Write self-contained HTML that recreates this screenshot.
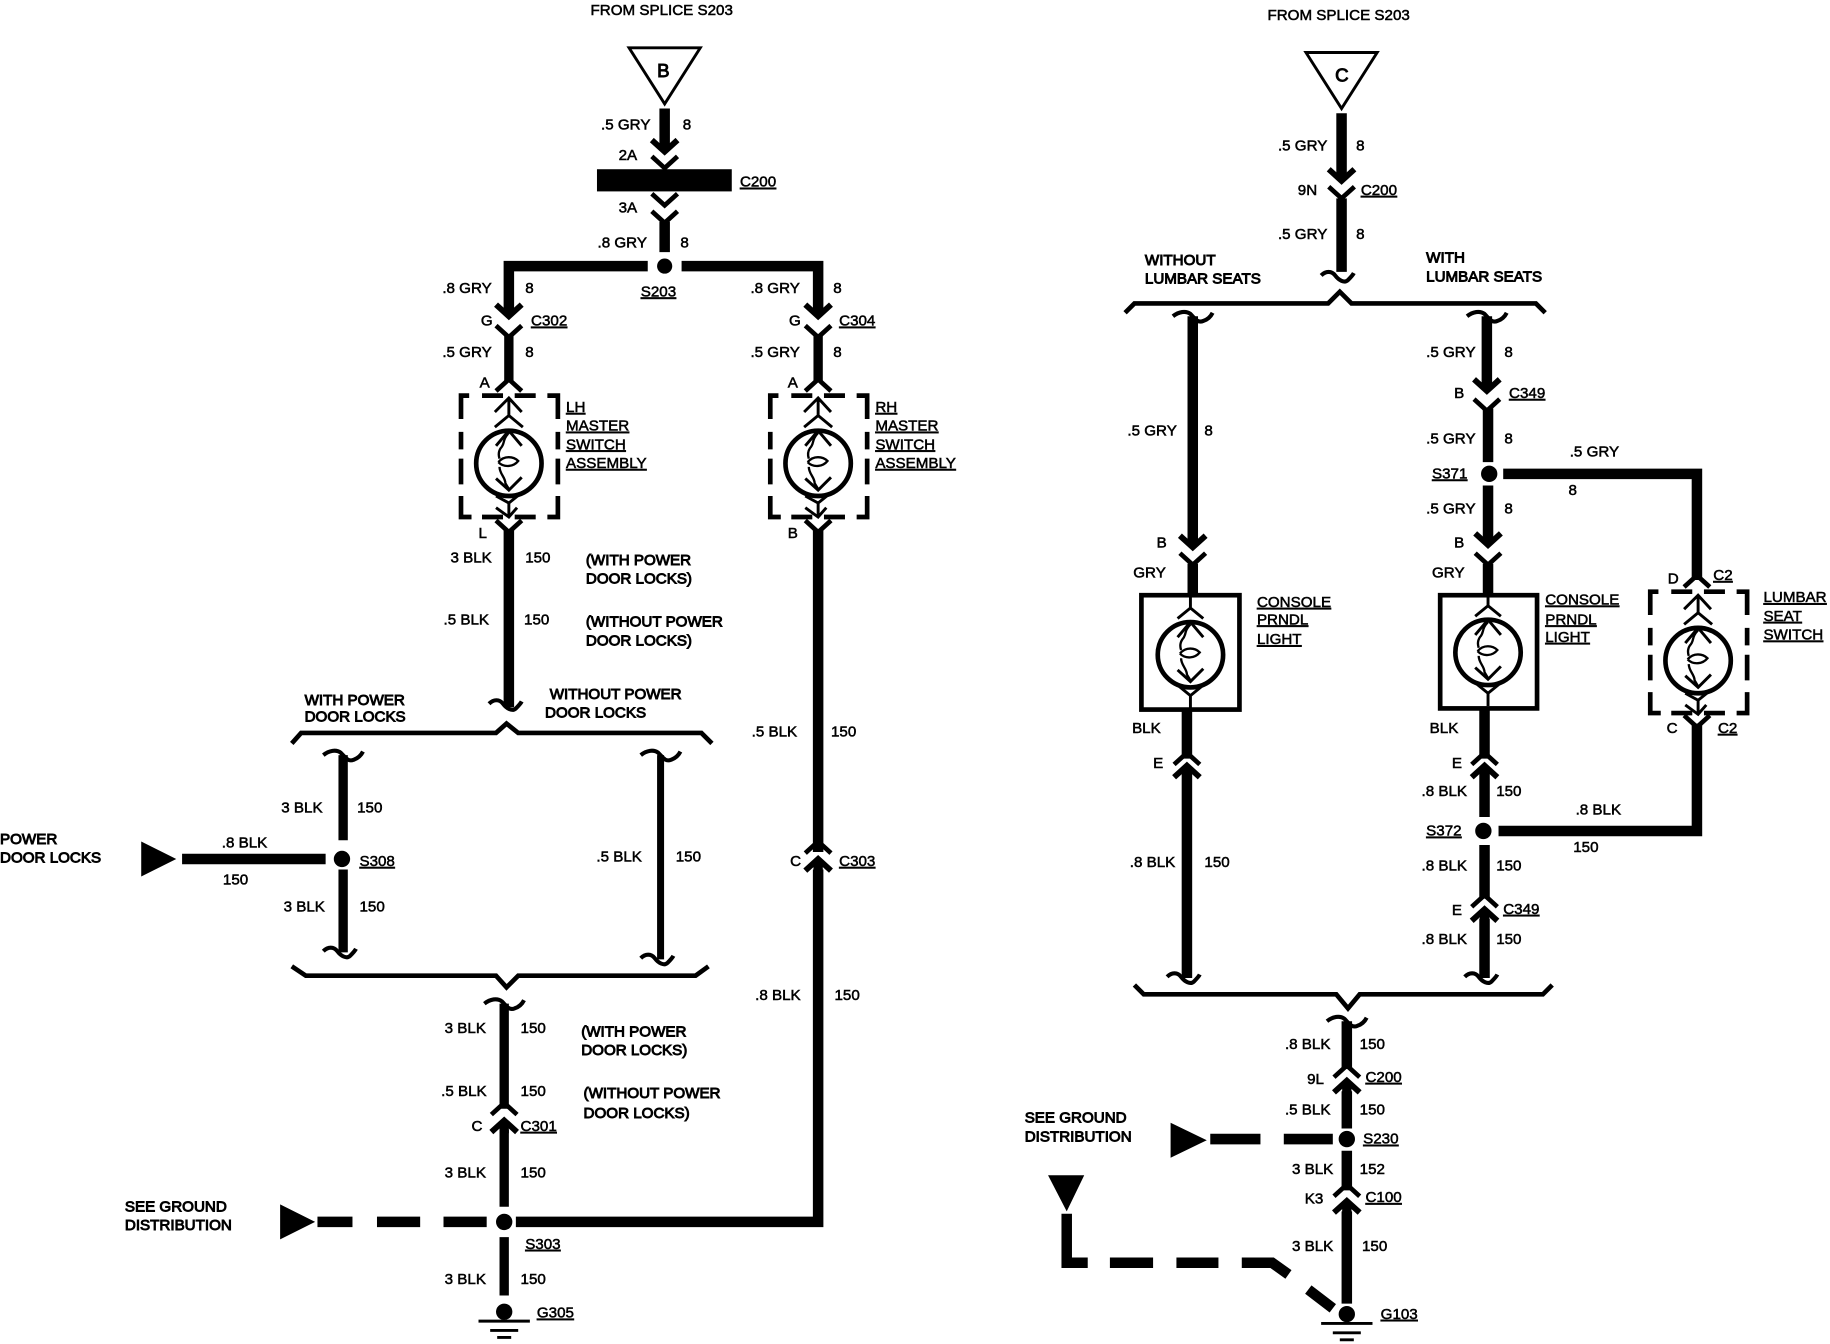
<!DOCTYPE html>
<html><head><meta charset="utf-8"><style>
html,body{margin:0;padding:0;background:#fff}
svg{display:block}
text{font-family:"Liberation Sans",sans-serif;font-size:13px;letter-spacing:0;fill:#000;stroke:#000;stroke-width:.45}
.u{text-decoration:underline}
.h{stroke-width:.8}
.w{fill:none;stroke:#000;stroke-width:9}
.t{fill:none;stroke:#000;stroke-width:4;stroke-linejoin:miter}
.m{fill:none;stroke:#000;stroke-width:2.5}
</style></head><body>
<svg xmlns="http://www.w3.org/2000/svg" width="1830" height="1344" viewBox="0 0 1568 1151.6">
<defs>
<g id="ad"><path d="M-11,-11 L0,-1 L11,-11" fill="none" stroke="#000" stroke-width="5"/><path d="M-4,-12 H4 V-6 L0,-1 L-4,-6Z"/></g>
<g id="au"><path d="M-11,11 L0,1 L11,11" fill="none" stroke="#000" stroke-width="5"/><path d="M-4,12 H4 V6 L0,1 L-4,6Z"/></g>
<path id="cd" d="M-11,-9 L0,1 L11,-9" fill="none" stroke="#000" stroke-width="4"/>
<path id="cu" d="M-11,9 L0,-1 L11,9" fill="none" stroke="#000" stroke-width="4"/>
<path id="td" d="M-17,-5 C-13,-9 -8,-9 -5,-5 C-2,-1 3,2 6,-1 C8,-3 10,-5 11,-7" fill="none" stroke="#000" stroke-width="3.5"/>
<path id="tu" d="M-17,0 C-12,-4 -6,-5 -2,-2 C2,2 4,6 9,4 C12,3 15,1 17,-3" fill="none" stroke="#000" stroke-width="3.5"/>
<g id="core" fill="none" stroke="#000" stroke-width="2.5">
<path d="M-11,-15 L0,-28 L11,-15 M-11,13 L0,23 L11,12"/>
<path d="M0,-26 C-6,-20 -3,-17 -7,-13 C-9,-10 -9,-7 -8,-4 M-8,3 C-8,9 -3,12 -3,17 L0,22 M-9,-1 C-4,-7 4,-6 8,-2 C4,3 -4,4 -9,-1" stroke-width="2"/>
</g>
<g id="lampM" fill="none" stroke="#000" stroke-width="2.5">
<use href="#core"/>
<path d="M-12,-44 L0,-56 L11,-44 M-12,-31 L0,-41 L12,-31 M0,-56 V-40"/>
<path d="M-11,28 L0,34 L10,26 M0,34 V46 M-11,38 L0,46 L7,38"/>
</g>
<g id="lampC" fill="none" stroke="#000" stroke-width="2.5">
<use href="#core"/>
<path d="M-11,-31 L0,-40 L11,-31 M0,-50 V-40 M-11,26 L0,35 L11,26 M0,35 V46"/>
</g>
<g id="dbox" fill="none" stroke="#000" stroke-width="4">
<path d="M-34,-58 H-41 V-38 M-41,-27 V-12 M-41,-4 V18 M-41,28 V46 H-32 M-23,46 H-5 M5,46 H23 M33,46 H42 V28 M42,18 V-4 M42,-12 V-27 M42,-38 V-58 H33 M23,-58 H5 M-5,-58 H-23"/>
</g>
<g id="gnd"><circle r="7"/><path d="M-22,8 H22 M-12,16 H12 M-6,22 H6" stroke="#000" stroke-width="2.5"/></g>
</defs>

<!-- LEFT DIAGRAM -->
<path d="M539,41 H600 L569.5,89Z" class="m" fill="none"/>
<path class="w" d="M569.5,93 V125"/><use href="#ad" x="569.5" y="131"/>
<use href="#cd" x="569.5" y="143"/>
<rect x="511.5" y="145" width="115.5" height="19"/>
<use href="#cd" x="569.5" y="175"/>
<use href="#cd" x="569.5" y="190"/>
<path class="w" d="M569.5,190 V216"/>
<circle cx="569.5" cy="228" r="6.5"/>
<path class="w" d="M555,228 H436 V265 M584,228 H701 V265"/>
<use href="#ad" x="436" y="272"/><use href="#ad" x="701" y="272"/>
<use href="#cd" x="436" y="288"/><use href="#cd" x="701" y="288"/>
<path class="w" d="M436,287 V327 M701,287 V327" style="stroke-width:8"/>
<use href="#cu" x="436" y="326"/><use href="#cu" x="701" y="326"/>
<use href="#dbox" x="436" y="397"/><use href="#dbox" x="701" y="397"/>
<circle cx="436" cy="397" r="28" fill="none" stroke="#000" stroke-width="4"/>
<circle cx="701" cy="397" r="28" fill="none" stroke="#000" stroke-width="4"/>
<use href="#lampM" x="436" y="397"/><use href="#lampM" x="701" y="397"/>
<use href="#cd" x="436" y="455"/><use href="#cd" x="701" y="455"/>
<path class="w" d="M436,454 V606"/><use href="#td" x="436" y="608"/>
<path class="w" d="M701,454 V730"/>
<use href="#cu" x="701" y="722"/><use href="#au" x="701" y="735"/>
<path class="w" d="M701,745 V1047 H442"/>
<path d="M250,637 L258,628 H425 L434,620 L444,628 H601 L610,637" class="t"/>
<use href="#tu" x="294" y="647"/><path class="w" d="M294,647 V720 M294,745 V816" style="stroke-width:8"/><use href="#td" x="294" y="820"/>
<use href="#tu" x="566" y="647"/><path class="w" d="M566,647 V822" style="stroke-width:6"/><use href="#td" x="566" y="826"/>
<circle cx="293" cy="736" r="7"/>
<path d="M121,721 V751 L151,736Z"/><path class="w" d="M156,736 H279"/>
<path d="M250,828 L262,836 H425 L434,846 L444,836 H596 L607,828" class="t"/>
<use href="#tu" x="432" y="860"/><path class="w" d="M432,860 V950" style="stroke-width:8"/>
<use href="#cu" x="432" y="946"/><use href="#au" x="432" y="959"/>
<path class="w" d="M432,968 V1034 M432,1060 V1110" style="stroke-width:8"/>
<circle cx="432" cy="1047" r="7"/>
<use href="#gnd" x="432" y="1124"/>
<path d="M240,1032 V1062 L270,1047Z"/><path class="w" d="M272,1047 H302 M323,1047 H360 M380,1047 H417"/>

<text x="506" y="13">FROM SPLICE S203</text>
<text x="563" y="66" class="h" style="font-size:16px">B</text>
<text x="515" y="111">.5 GRY</text><text x="585" y="111">8</text>
<text x="530" y="137">2A</text><text x="634" y="160" class="u">C200</text>
<text x="530" y="182">3A</text>
<text x="512" y="212">.8 GRY</text><text x="583" y="212">8</text>
<text x="549" y="254" class="u">S203</text>
<text x="379" y="251">.8 GRY</text><text x="450" y="251">8</text>
<text x="643" y="251">.8 GRY</text><text x="714" y="251">8</text>
<text x="412" y="279">G</text><text x="455" y="279" class="u">C302</text>
<text x="676" y="279">G</text><text x="719" y="279" class="u">C304</text>
<text x="379" y="306">.5 GRY</text><text x="450" y="306">8</text>
<text x="643" y="306">.5 GRY</text><text x="714" y="306">8</text>
<text x="411" y="332">A</text><text x="675" y="332">A</text>
<text x="485" y="353" class="u">LH</text><text x="485" y="369" class="u">MASTER</text><text x="485" y="385" class="u">SWITCH</text><text x="485" y="401" class="u">ASSEMBLY</text>
<text x="750" y="353" class="u">RH</text><text x="750" y="369" class="u">MASTER</text><text x="750" y="385" class="u">SWITCH</text><text x="750" y="401" class="u">ASSEMBLY</text>
<text x="410" y="461">L</text><text x="675" y="461">B</text>
<text x="386" y="482">3 BLK</text><text x="450" y="482">150</text>
<text x="502" y="484" class="h">(WITH POWER</text><text x="502" y="500" class="h">DOOR LOCKS)</text>
<text x="380" y="535">.5 BLK</text><text x="449" y="535">150</text>
<text x="502" y="537" class="h">(WITHOUT POWER</text><text x="502" y="553" class="h">DOOR LOCKS)</text>
<text x="261" y="604" class="h">WITH POWER</text><text x="261" y="618" class="h">DOOR LOCKS</text>
<text x="471" y="599" class="h">WITHOUT POWER</text><text x="467" y="615" class="h">DOOR LOCKS</text>
<text x="644" y="631">.5 BLK</text><text x="712" y="631">150</text>
<text x="241" y="696">3 BLK</text><text x="306" y="696">150</text>
<text x="0" y="723" class="h">POWER</text><text x="0" y="739" class="h">DOOR LOCKS</text>
<text x="190" y="726">.8 BLK</text><text x="191" y="758">150</text>
<text x="308" y="742" class="u">S308</text>
<text x="243" y="781">3 BLK</text><text x="308" y="781">150</text>
<text x="511" y="738">.5 BLK</text><text x="579" y="738">150</text>
<text x="677" y="742">C</text><text x="719" y="742" class="u">C303</text>
<text x="647" y="857">.8 BLK</text><text x="715" y="857">150</text>
<text x="381" y="885">3 BLK</text><text x="446" y="885">150</text>
<text x="498" y="888" class="h">(WITH POWER</text><text x="498" y="904" class="h">DOOR LOCKS)</text>
<text x="378" y="939">.5 BLK</text><text x="446" y="939">150</text>
<text x="500" y="941" class="h">(WITHOUT POWER</text><text x="500" y="958" class="h">DOOR LOCKS)</text>
<text x="404" y="969">C</text><text x="446" y="969" class="u">C301</text>
<text x="381" y="1009">3 BLK</text><text x="446" y="1009">150</text>
<text x="107" y="1038" class="h">SEE GROUND</text><text x="107" y="1054" class="h">DISTRIBUTION</text>
<text x="450" y="1070" class="u">S303</text>
<text x="381" y="1100">3 BLK</text><text x="446" y="1100">150</text>
<text x="460" y="1129" class="u">G305</text>

<!-- RIGHT DIAGRAM -->
<path d="M1119,45 H1180 L1149.5,93Z" class="m" fill="none"/>
<path class="w" d="M1149.5,97 V150"/><use href="#ad" x="1149.5" y="156"/>
<use href="#cd" x="1149.5" y="169"/>
<path class="w" d="M1149.5,170 V233"/><use href="#td" x="1149" y="241"/>
<path d="M964,268 L972,260 H1138 L1148,250 L1158,260 H1316 L1324,268" class="t"/>
<use href="#tu" x="1022" y="271"/><path class="w" d="M1022,271 V465"/><use href="#ad" x="1022" y="470"/><use href="#cd" x="1022" y="483"/><path class="w" d="M1022,483 V510"/>
<rect x="978" y="510" width="84" height="98" class="t"/>
<circle cx="1020" cy="561" r="28" fill="none" stroke="#000" stroke-width="4"/><use href="#lampC" x="1020" y="561"/>
<path class="w" d="M1017,608 V650 M1017,660 V838"/><use href="#cu" x="1017" y="646"/><use href="#au" x="1017" y="655"/><use href="#td" x="1017" y="842"/>

<use href="#tu" x="1274" y="271"/><path class="w" d="M1274,271 V330"/><use href="#ad" x="1274" y="336"/><use href="#cd" x="1274" y="351"/>
<path class="w" d="M1275,350 V396 M1275,416 V460"/>
<circle cx="1276" cy="406" r="7"/>
<use href="#ad" x="1275" y="468"/><use href="#cd" x="1275" y="483"/><path class="w" d="M1275,483 V510"/>
<rect x="1234" y="510" width="83" height="97" class="t"/>
<circle cx="1275" cy="559" r="28" fill="none" stroke="#000" stroke-width="4"/><use href="#lampC" x="1275" y="559"/>
<path class="w" d="M1288,406 H1454 V497"/><use href="#cu" x="1454" y="494"/>
<use href="#dbox" x="1455" y="565"/>
<circle cx="1455" cy="566" r="28" fill="none" stroke="#000" stroke-width="4"/><use href="#lampM" x="1455" y="566"/>
<use href="#cd" x="1454" y="622"/><path class="w" d="M1454,620 V712 H1284"/>
<path class="w" d="M1272,608 V650 M1272,660 V700 M1272,724 V770 M1272,787 V838"/>
<use href="#cu" x="1272" y="646"/><use href="#au" x="1272" y="655"/>
<circle cx="1271" cy="712" r="7"/>
<use href="#cu" x="1272" y="768"/><use href="#au" x="1272" y="778"/>
<use href="#td" x="1272" y="842"/>
<path d="M972,844 L980,852 H1145 L1155,864 L1165,852 H1322 L1330,844" class="t"/>
<use href="#tu" x="1154" y="875"/><path class="w" d="M1154,875 V916"/>
<use href="#cu" x="1154" y="914"/><use href="#au" x="1154" y="925"/>
<path class="w" d="M1154,935 V967 M1154,986 V1020"/>
<circle cx="1154" cy="976" r="7"/>
<use href="#cu" x="1154" y="1016"/><use href="#au" x="1154" y="1028"/>
<path class="w" d="M1154,1038 V1117"/>
<use href="#gnd" x="1154" y="1126"/>
<path d="M1003,962 V992 L1034,977Z"/><path class="w" d="M1037,976 H1080 M1100,976 H1142"/>
<path d="M898,1007 H929 L914,1038Z"/>
<path class="w" d="M914,1040 V1082 H932 M951,1082 H988 M1008,1082 H1044 M1064,1082 H1090 L1104,1092 M1121,1105 L1142,1121"/>

<text x="1086" y="17">FROM SPLICE S203</text>
<text x="1144" y="70" class="h" style="font-size:16px">C</text>
<text x="1095" y="129">.5 GRY</text><text x="1162" y="129">8</text>
<text x="1112" y="167">9N</text><text x="1166" y="167" class="u">C200</text>
<text x="1095" y="205">.5 GRY</text><text x="1162" y="205">8</text>
<text x="981" y="227" class="h">WITHOUT</text><text x="981" y="243" class="h">LUMBAR SEATS</text>
<text x="1222" y="225" class="h">WITH</text><text x="1222" y="241" class="h">LUMBAR SEATS</text>
<text x="1222" y="306">.5 GRY</text><text x="1289" y="306">8</text>
<text x="1246" y="341">B</text><text x="1293" y="341" class="u">C349</text>
<text x="966" y="373">.5 GRY</text><text x="1032" y="373">8</text>
<text x="1222" y="380">.5 GRY</text><text x="1289" y="380">8</text>
<text x="1345" y="391">.5 GRY</text>
<text x="1227" y="410" class="u">S371</text>
<text x="1344" y="424">8</text>
<text x="1222" y="440">.5 GRY</text><text x="1289" y="440">8</text>
<text x="991" y="469">B</text><text x="1246" y="469">B</text>
<text x="971" y="495">GRY</text><text x="1227" y="495">GRY</text>
<text x="1429" y="500">D</text><text x="1468" y="497" class="u">C2</text>
<text x="1077" y="520" class="u">CONSOLE</text><text x="1077" y="535" class="u">PRNDL</text><text x="1077" y="552" class="u">LIGHT</text>
<text x="1324" y="518" class="u">CONSOLE</text><text x="1324" y="535" class="u">PRNDL</text><text x="1324" y="550" class="u">LIGHT</text>
<text x="1511" y="516" class="u">LUMBAR</text><text x="1511" y="532" class="u">SEAT</text><text x="1511" y="548" class="u">SWITCH</text>
<text x="970" y="628">BLK</text><text x="1225" y="628">BLK</text>
<text x="1428" y="628">C</text><text x="1472" y="628" class="u">C2</text>
<text x="988" y="658">E</text><text x="1244" y="658">E</text>
<text x="1218" y="682">.8 BLK</text><text x="1282" y="682">150</text>
<text x="1350" y="698">.8 BLK</text>
<text x="1222" y="716" class="u">S372</text>
<text x="1348" y="730">150</text>
<text x="968" y="743">.8 BLK</text><text x="1032" y="743">150</text>
<text x="1218" y="746">.8 BLK</text><text x="1282" y="746">150</text>
<text x="1244" y="784">E</text><text x="1288" y="783" class="u">C349</text>
<text x="1218" y="809">.8 BLK</text><text x="1282" y="809">150</text>
<text x="1101" y="899">.8 BLK</text><text x="1165" y="899">150</text>
<text x="1120" y="929">9L</text><text x="1170" y="927" class="u">C200</text>
<text x="1101" y="955">.5 BLK</text><text x="1165" y="955">150</text>
<text x="878" y="962" class="h">SEE GROUND</text><text x="878" y="978" class="h">DISTRIBUTION</text>
<text x="1168" y="980" class="u">S230</text>
<text x="1107" y="1006">3 BLK</text><text x="1165" y="1006">152</text>
<text x="1118" y="1031">K3</text><text x="1170" y="1030" class="u">C100</text>
<text x="1107" y="1072">3 BLK</text><text x="1167" y="1072">150</text>
<text x="1183" y="1130" class="u">G103</text>
</svg>
</body></html>
